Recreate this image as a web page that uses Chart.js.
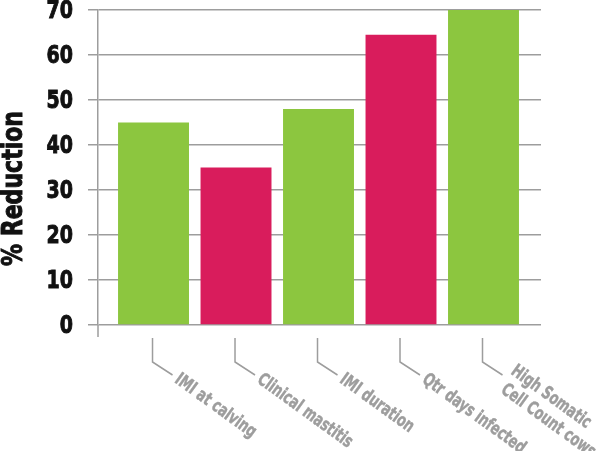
<!DOCTYPE html>
<html>
<head>
<meta charset="utf-8">
<script src="https://cdn.jsdelivr.net/npm/chart.js@4.4.0/dist/chart.umd.min.js"></script>
<style>
html,body{margin:0;padding:0;background:#fff;}
#wrap{width:600px;height:451px;position:relative;}
</style>
</head>
<body>
<div id="wrap"><canvas id="chartReduction"></canvas></div>
<script>
// categories (multi-line labels as arrays)
var categories = [['IMI at calving'], ['Clinical mastitis'], ['IMI duration'], ['Qtr days infected'], ['High Somatic', 'Cell Count cows']];
var reduction = [45, 35, 48, 64.5, 70];
var yTickValues = [0, 10, 20, 30, 40, 50, 60, 70];
var yTitle = '% Reduction';

var GREEN = '#8cc63f', PINK = '#d91c5c', GREY = '#9d9d9d';
var FAMILY = "'DejaVu Sans', sans-serif";

// bar positions on a linear x axis, built from the category list
var points = categories.map(function(c, i){ return {x: i, y: reduction[i]}; });

// condensed text: squeeze horizontally along the writing direction, thin stroke for weight
function narrowText(ctx, text, x, y, sx, heavy){
    ctx.save();
    ctx.translate(x, y);
    ctx.scale(sx, 1);
    if (heavy) {
        ctx.lineWidth = heavy;
        ctx.strokeStyle = ctx.fillStyle;
        ctx.strokeText(text, 0, 0);
    }
    ctx.fillText(text, 0, 0);
    ctx.restore();
}

var leaderLabels = {
    id: 'leaderLabels',
    afterDraw: function(chart){
        var ctx = chart.ctx, xs = chart.scales.x, ys = chart.scales.y;
        var area = chart.chartArea;
        var base = ys.getPixelForValue(0);
        var ang = 36 * Math.PI / 180;
        ctx.save();
        ctx.strokeStyle = GREY;
        ctx.lineWidth = 1.5;
        // axis stub below zero line
        ctx.beginPath();
        ctx.moveTo(area.left, base);
        ctx.lineTo(area.left, base + 12);
        ctx.stroke();

        // y tick labels
        ctx.fillStyle = '#111';
        ctx.font = 'bold 25px ' + FAMILY;
        ctx.textAlign = 'right';
        ctx.textBaseline = 'middle';
        ys.ticks.forEach(function(t){
            narrowText(ctx, String(t.value), area.left - 25, ys.getPixelForValue(t.value) + 1, 0.76, 1);
        });

        // category labels with leader lines
        ctx.font = 'bold 18px ' + FAMILY;
        ctx.textAlign = 'left';
        categories.forEach(function(lines, i){
            var cx = xs.getPixelForValue(i) - 1;
            var ex = cx + 20, ey = base + 50;
            ctx.strokeStyle = GREY;
            ctx.lineWidth = 1.5;
            ctx.beginPath();
            ctx.moveTo(cx, base + 13);
            ctx.lineTo(cx, base + 37);
            ctx.lineTo(ex, ey);
            ctx.stroke();
            ctx.save();
            ctx.fillStyle = GREY;
            ctx.translate(ex, ey);
            ctx.rotate(ang);
            var lh = 21;
            var startY = -(lines.length - 1) * lh / 2;
            lines.forEach(function(t, k){
                var off = lines.length > 1 ? (k === 0 ? 5 : 8) : 5;
                narrowText(ctx, t, off, startY + k * lh, 0.7, 0.5);
            });
            ctx.restore();
        });

        // y axis title
        ctx.save();
        ctx.fillStyle = '#111';
        ctx.font = 'bold 29px ' + FAMILY;
        ctx.textAlign = 'center';
        ctx.textBaseline = 'middle';
        ctx.translate(14, (area.top + area.bottom) / 2 + 21);
        ctx.rotate(-Math.PI / 2);
        narrowText(ctx, yTitle, 0, 0, 0.76, 1);
        ctx.restore();
        ctx.restore();
    }
};

var ctxR = document.getElementById('chartReduction').getContext('2d');
var reductionChart = new Chart(ctxR, {
    type: 'bar',
    data: {
        datasets: [{
            data: points,
            backgroundColor: [GREEN, PINK, GREEN, PINK, GREEN],
            borderWidth: 0,
            barPercentage: 0.86,
            categoryPercentage: 1
        }]
    },
    options: {
        responsive: true,
        maintainAspectRatio: false,
        animation: false,
        layout: {padding: {top: 10, right: 59, left: 0, bottom: 0}},
        plugins: {legend: {display: false}, tooltip: {enabled: false}},
        scales: {
            x: {
                type: 'linear',
                offset: false,
                min: -0.673,
                max: 4.697,
                afterBuildTicks: function(s){ s.ticks = categories.map(function(c, i){ return {value: i}; }); },
                grid: {display: false},
                border: {display: false},
                ticks: {display: false},
                afterFit: function(s){ s.height = 126; }
            },
            y: {
                min: 0,
                max: 70,
                afterBuildTicks: function(s){ s.ticks = yTickValues.map(function(v){ return {value: v}; }); },
                grid: {color: GREY, lineWidth: 1.5, tickLength: 10},
                border: {display: true, color: GREY, width: 1.5},
                ticks: {display: false},
                afterFit: function(s){ s.width = 98; }
            }
        }
    },
    plugins: [leaderLabels]
});
</script>
</body>
</html>
